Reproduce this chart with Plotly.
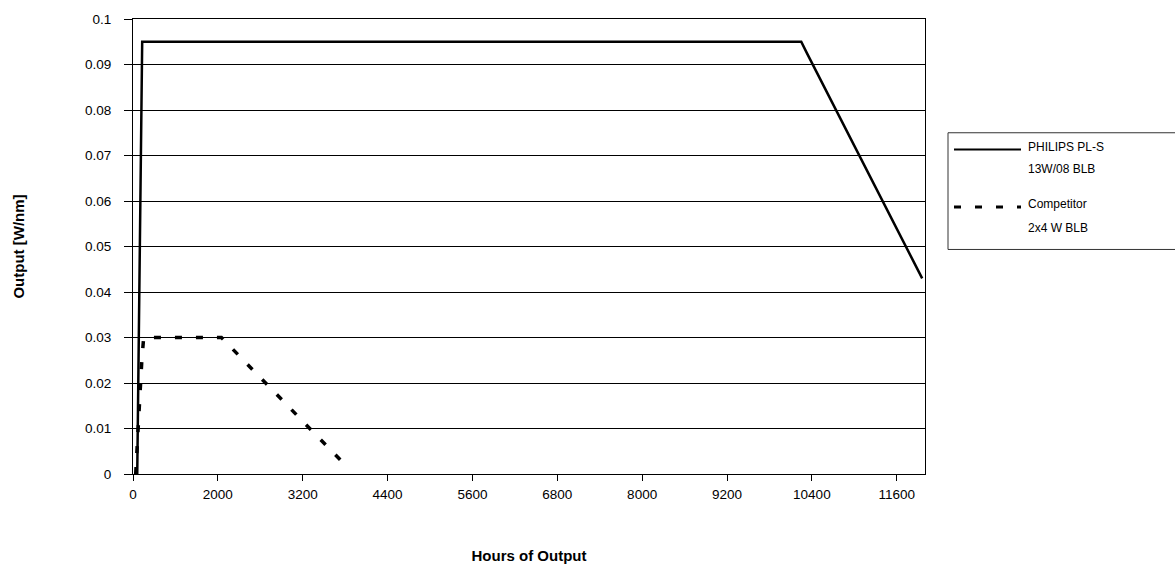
import plotly.graph_objects as go

# ---- data ----
philips_label = ["PHILIPS PL-S", "13W/08 BLB"]
philips_hours = [860, 930, 10250, 10330, 11960]
philips_output = [0.0, 0.095, 0.095, 0.0925, 0.043]

competitor_label = ["Competitor", "2x4 W BLB"]
competitor_hours = [838, 871, 902, 925, 951, 2050, 3800]
competitor_output = [0.0, 0.010, 0.020, 0.025, 0.030, 0.030, 0.002]

x_tick_vals = [800, 2000, 3200, 4400, 5600, 6800, 8000, 9200, 10400, 11600]
x_tick_text = ["0", "2000", "3200", "4400", "5600", "6800", "8000", "9200", "10400", "11600"]
y_tick_vals = [0, 0.01, 0.02, 0.03, 0.04, 0.05, 0.06, 0.07, 0.08, 0.09, 0.1]
y_tick_text = ["0", "0.01", "0.02", "0.03", "0.04", "0.05", "0.06", "0.07", "0.08", "0.09", "0.1"]

FONT = "Liberation Sans, Arial, sans-serif"
W, H = 1175, 584
L, R, T, B = 133, 250, 14, 110
PW, PH = W - L - R, H - T - B

SOLID = dict(color="black", width=2.5)
DASHED = dict(color="black", width=3.5, dash="7px,14px")


def px(xp):
    return (xp - L) / PW


def py(yp):
    return (H - B - yp) / PH


fig = go.Figure()
fig.add_trace(go.Scatter(
    x=philips_hours, y=philips_output, name=" ".join(philips_label), mode="lines",
    line=SOLID, showlegend=False,
))
fig.add_trace(go.Scatter(
    x=competitor_hours, y=competitor_output, name=" ".join(competitor_label), mode="lines",
    line=DASHED, showlegend=False,
))

# ---- legend drawn as a boxed key (line samples + two-line labels) ----
shapes = [
    dict(type="rect", xref="paper", yref="paper", x0=px(948), x1=px(1185), y0=py(247), y1=py(129),
         line=dict(color="#333", width=1), fillcolor="white", layer="above"),
    dict(type="line", xref="paper", yref="paper", x0=px(954), x1=px(1021), y0=py(146), y1=py(146),
         line=dict(color="black", width=2)),
    dict(type="line", xref="paper", yref="paper", x0=px(954), x1=px(1021), y0=py(204), y1=py(204),
         line=dict(color="black", width=3, dash="7px,14px")),
]
annotations = []
for label, ys in ((philips_label, (143, 166)), (competitor_label, (201, 225))):
    for txt, yy in zip(label, ys):
        annotations.append(dict(
            xref="paper", yref="paper", x=px(1026), y=py(yy), text=txt, showarrow=False,
            xanchor="left", yanchor="middle", font=dict(size=12, family=FONT, color="black"),
        ))

fig.update_layout(
    width=W, height=H,
    margin=dict(l=L, r=R, t=T, b=B),
    paper_bgcolor="white", plot_bgcolor="white",
    font=dict(family=FONT, size=13, color="black"),
    showlegend=False, shapes=shapes, annotations=annotations,
)
fig.update_xaxes(
    range=[800, 12000], tickmode="array", tickvals=x_tick_vals, ticktext=x_tick_text,
    showgrid=False, zeroline=False, showline=True, linecolor="black", linewidth=1,
    mirror=True, ticks="outside", ticklen=6, tickcolor="black", ticklabelstandoff=2,
    tickfont=dict(size=13.5),
    title=dict(text="<b>Hours of Output</b>", font=dict(size=15), standoff=49),
)
fig.update_yaxes(
    range=[0, 0.1], tickmode="array", tickvals=y_tick_vals, ticktext=y_tick_text,
    showgrid=True, gridcolor="black", gridwidth=1, zeroline=False,
    showline=True, linecolor="black", linewidth=1, mirror=True,
    ticks="outside", ticklen=8, tickcolor="black", ticklabelstandoff=10,
    tickfont=dict(size=13.5),
    title=dict(text="<b>Output [W/nm]</b>", font=dict(size=15), standoff=56),
)

fig.write_html(
    "out.html",
    config={"displayModeBar": False},
    post_script="document.body.style.margin='0';",
)
